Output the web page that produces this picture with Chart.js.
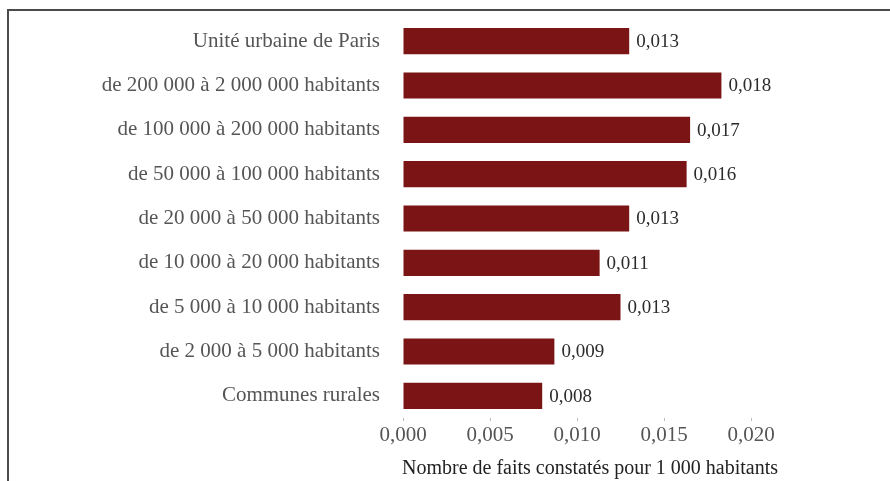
<!DOCTYPE html>
<html>
<head>
<meta charset="utf-8">
<script src="https://cdn.jsdelivr.net/npm/chart.js@4.4.1/dist/chart.umd.min.js"></script>
<style>
  html, body { margin: 0; padding: 0; background: #fff; overflow: hidden; }
  #frame {
    position: absolute; left: 7px; top: 9px; width: 890px; height: 480px;
    border-top: 2px solid #4a4a4a; border-left: 2px solid #4a4a4a;
  }
  #chart { position: absolute; left: 0; top: 0; }
</style>
</head>
<body>
<div id="frame"></div>
<canvas id="chart" width="890" height="481"></canvas>
<script>
// categories, top to bottom
const categories = [
  "Unité urbaine de Paris",
  "de 200 000 à 2 000 000 habitants",
  "de 100 000 à 200 000 habitants",
  "de 50 000 à 100 000 habitants",
  "de 20 000 à 50 000 habitants",
  "de 10 000 à 20 000 habitants",
  "de 5 000 à 10 000 habitants",
  "de 2 000 à 5 000 habitants",
  "Communes rurales"
]
// faits constatés pour 1 000 habitants
const values = [0.0130, 0.0183, 0.0165, 0.0163, 0.0130, 0.0113, 0.0125, 0.0087, 0.0080]
// the printed labels next to the bars
const valueLabels = ["0,013", "0,018", "0,017", "0,016", "0,013", "0,011", "0,013", "0,009", "0,008"]
const xTicks = [0, 0.005, 0.010, 0.015, 0.020]
const xTitle = "Nombre de faits constatés pour 1 000 habitants"

const serif = "'Liberation Serif', 'DejaVu Serif', serif"

// draws the value next to the end of each bar
const barValues = {
  id: 'barValues',
  afterDatasetsDraw(chart) {
    const ctx = chart.ctx
    const meta = chart.getDatasetMeta(0)
    ctx.save()
    ctx.font = "19px " + serif
    ctx.fillStyle = "#2b2b2b"
    ctx.textAlign = "left"
    ctx.textBaseline = "middle"
    meta.data.forEach(function (bar, i) {
      ctx.fillText(valueLabels[i], bar.x + 7, bar.y + 1)
    })
    ctx.restore()
  }
}

// axis title starts at the zero of the x axis and runs past its end,
// so it is drawn here instead of the scale title (which gets squeezed)
const axisTitle = {
  id: 'axisTitle',
  afterDraw(chart) {
    const ctx = chart.ctx
    const x = chart.scales.x
    ctx.save()
    ctx.font = "20px " + serif
    ctx.fillStyle = "#222222"
    ctx.textAlign = "left"
    ctx.textBaseline = "alphabetic"
    ctx.fillText(xTitle, x.left - 1, x.bottom - 7)
    ctx.restore()
  }
}

new Chart(document.getElementById('chart'), {
  type: 'bar',
  data: {
    labels: categories,
    datasets: [{
      data: values,
      backgroundColor: "#7b1515",
      borderWidth: 0,
      barPercentage: 0.59,
      categoryPercentage: 1
    }]
  },
  options: {
    indexAxis: 'y',
    responsive: false,
    animation: false,
    layout: { padding: { top: 19, right: 139, bottom: 0, left: 0 } },
    plugins: {
      legend: { display: false },
      tooltip: { enabled: false }
    },
    scales: {
      x: {
        min: 0,
        max: 0.020,
        afterBuildTicks(axis) {
          axis.ticks = xTicks.map(v => ({ value: v }))
        },
        afterFit(axis) { axis.height = 63 },
        grid: { display: true, drawOnChartArea: false, drawTicks: true, tickLength: 3, color: "#bbbbbb" },
        border: { display: false },
        ticks: {
          color: "#555555",
          font: { family: serif, size: 21 },
          padding: 2,
          callback: v => v.toFixed(3).replace('.', ',')
        },
        title: { display: false }
      },
      y: {
        afterFit(axis) {
          axis.width = 403
          axis.paddingTop = 0
          axis.paddingBottom = 0
        },
        grid: { display: false, drawTicks: false },
        border: { display: false },
        ticks: {
          color: "#555555",
          font: { family: serif, size: 21 },
          padding: 23
        }
      }
    }
  },
  plugins: [barValues, axisTitle]
})
</script>
</body>
</html>
